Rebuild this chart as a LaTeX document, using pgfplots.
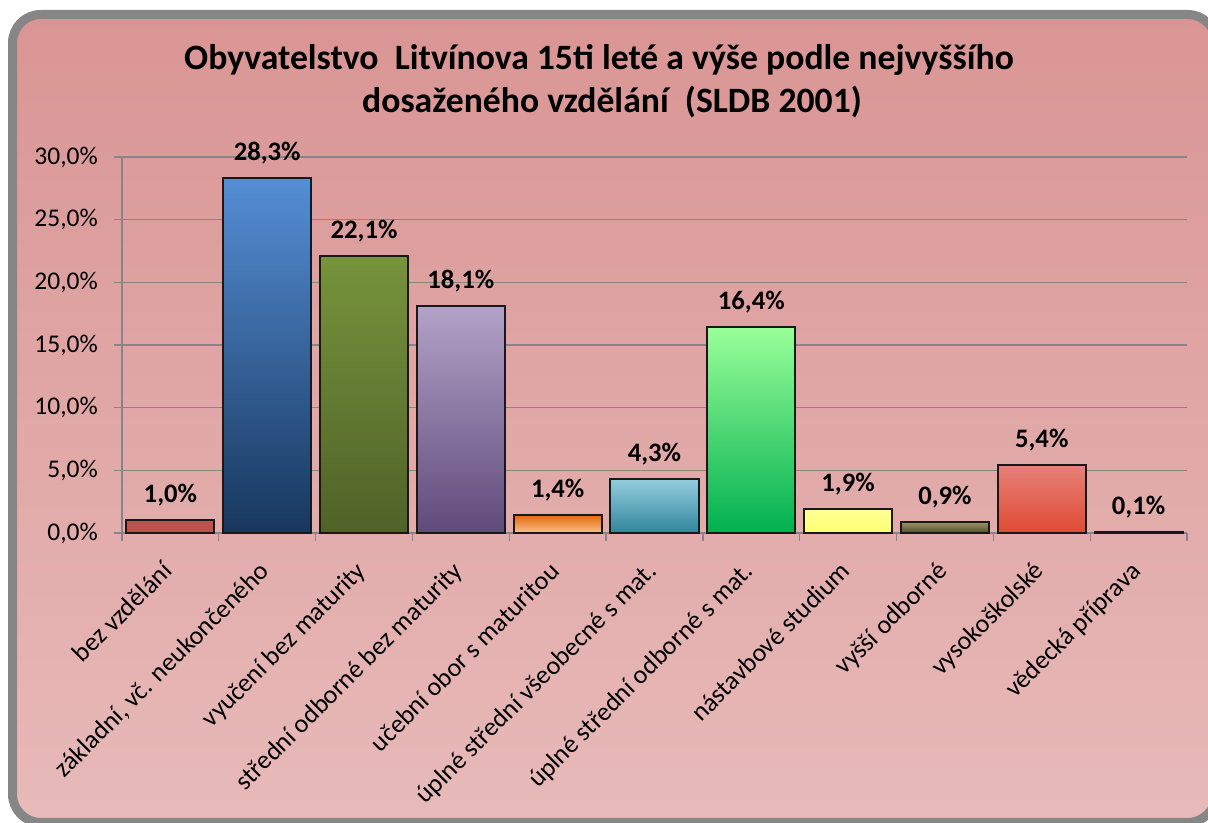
\documentclass[border=0pt]{standalone}
\usepackage{pgfplots}
\pgfplotsset{compat=1.18}
\usepackage{fontspec}
\setmainfont{Carlito}
\definecolor{bgtop}{RGB}{217,149,148}
\definecolor{bgbot}{RGB}{231,186,185}
\definecolor{frame}{RGB}{134,134,134}
\definecolor{gridc}{RGB}{134,134,134}
\pgfkeys{/pgf/number format/assume math mode=true}
\begin{document}
\begin{tikzpicture}[x=0.6pt,y=0.6pt]
\useasboundingbox (0,0) rectangle (1208,823);
\begin{scope}
\clip (0,0) rectangle (1208,823);
\shade[top color=bgtop, bottom color=bgbot, rounded corners=17pt] (12.5,0.5) rectangle (1216,808.5);
\draw[line width=5.4pt, color=frame, rounded corners=17pt] (12.5,0.5) rectangle (1216,808.5);
\end{scope}
\node[anchor=base, font=\bfseries\fontsize{21.4}{25}\selectfont] at (599,753) {Obyvatelstvo\ \ Litvínova 15ti leté a výše podle nejvyššího};
\node[anchor=base, font=\bfseries\fontsize{21.4}{25}\selectfont] at (612,710) {dosaženého vzdělání\ \ (SLDB 2001)};
\begin{axis}[
  at={(73.2pt,174pt)}, anchor=south west,
  scale only axis, width=639pt, height=225.6pt,
  ybar, bar width=0.91,
  every axis plot/.append style={bar shift=0pt, draw=black!90, line width=1.2pt},
  xmin=-0.5, xmax=10.5, ymin=0, ymax=30,
  axis lines=left, axis line style={-, draw=gridc, line width=0.8pt},
  ymajorgrids, grid style={draw=gridc, line width=0.8pt},
  ytick={0,5,...,30},
  yticklabel={\pgfmathprintnumber[fixed,fixed zerofill,precision=1,use comma]{\tick}\%},
  yticklabel style={font=\fontsize{15.3}{18}\selectfont, xshift=-6pt},
  tick align=outside, major tick length=5pt,
  tick style={draw=gridc, line width=0.8pt},
  xtick={0,...,10},
  x tick style={draw=none},
  xticklabels={bez vzdělání, {základní, vč. neukončeného}, vyučení bez maturity, střední odborné bez maturity, učební obor s maturitou, úplné střední všeobecné s mat., úplné střední odborné s mat., nástavbové studium, vyšší odborné, vysokoškolské, vědecká příprava},
  xticklabel style={font=\fontsize{15.6}{19}\selectfont, xshift=-5.7pt, yshift=-10.9pt, rotate=45, anchor=north east, inner sep=0pt},
  extra x ticks={-0.5,0.5,...,10.5},
  extra x tick labels={},
  extra x tick style={grid=none, x tick style={draw=gridc, line width=0.8pt}, major tick length=5pt},
  nodes near coords={\pgfmathprintnumber[fixed,fixed zerofill,precision=1,use comma]{\pgfplotspointmeta}\%},
  every node near coord/.append style={font=\bfseries\fontsize{16}{19}\selectfont, text=black, yshift=4.5pt},
]
\addplot[fill={rgb,255:red,192;green,80;blue,77}] coordinates {(0,1.0)};
\addplot[top color={rgb,255:red,85;green,142;blue,213}, bottom color={rgb,255:red,23;green,55;blue,94}] coordinates {(1,28.3)};
\addplot[top color={rgb,255:red,119;green,147;blue,60}, bottom color={rgb,255:red,79;green,98;blue,40}] coordinates {(2,22.1)};
\addplot[top color={rgb,255:red,179;green,162;blue,199}, bottom color={rgb,255:red,96;green,74;blue,123}] coordinates {(3,18.1)};
\addplot[top color={rgb,255:red,228;green,108;blue,10}, bottom color={rgb,255:red,250;green,192;blue,144}] coordinates {(4,1.4)};
\addplot[top color={rgb,255:red,147;green,205;blue,221}, bottom color={rgb,255:red,49;green,133;blue,156}] coordinates {(5,4.3)};
\addplot[top color={rgb,255:red,153;green,255;blue,153}, bottom color={rgb,255:red,0;green,176;blue,80}] coordinates {(6,16.4)};
\addplot[top color={rgb,255:red,255;green,255;blue,150}, bottom color={rgb,255:red,255;green,255;blue,110}] coordinates {(7,1.9)};
\addplot[top color={rgb,255:red,160;green,150;blue,105}, bottom color={rgb,255:red,80;green,75;blue,48}] coordinates {(8,0.9)};
\addplot[top color={rgb,255:red,230;green,128;blue,120}, bottom color={rgb,255:red,224;green,74;blue,50}] coordinates {(9,5.4)};
\addplot[fill=black] coordinates {(10,0.1)};
\end{axis}
\end{tikzpicture}
\end{document}
